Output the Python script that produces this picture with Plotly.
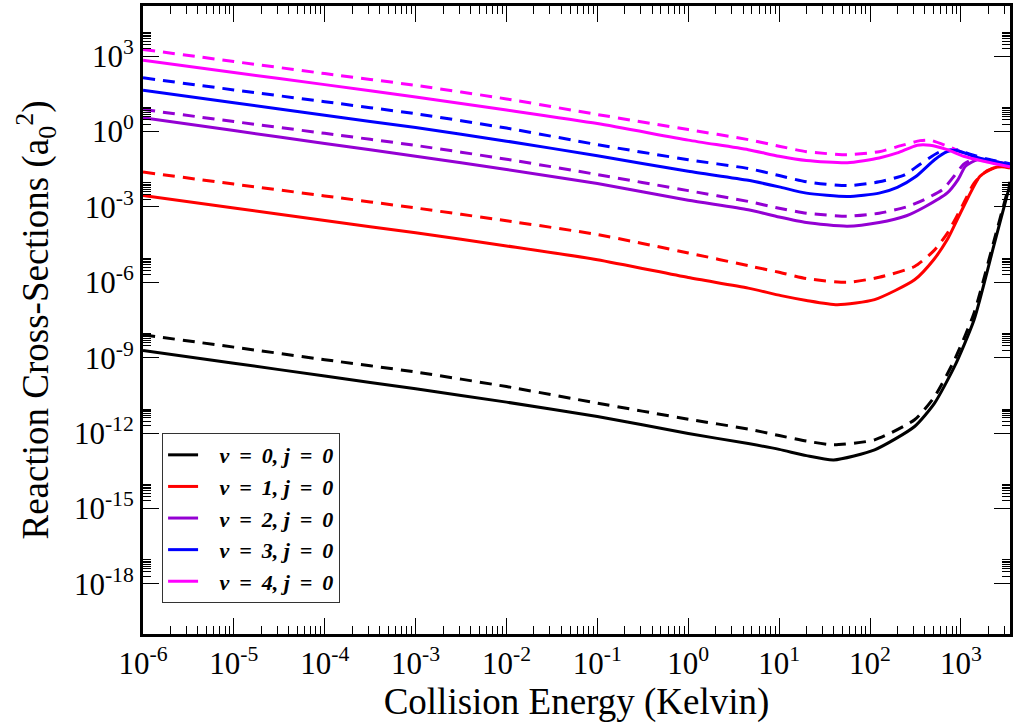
import plotly.graph_objects as go

# ---- data: log10(E / K) and log10(sigma / a0^2) ----
V0_SOLID_LOGE = [-6, -5, -4, -3, -2, -1, 0, 0.66, 1.0, 1.3, 1.6, 2.05, 2.49, 2.71, 2.93, 3.145, 3.36, 3.54]
V0_SOLID_LOGS = [-8.71, -9.22, -9.73, -10.24, -10.77, -11.34, -12.02, -12.42, -12.65, -12.9, -13.07, -12.67,
                 -11.74, -10.81, -9.35, -7.49, -4.57, -2.1]
V0_DASH_LOGE = [-6, -5, -4, -3, -2, -1, 0, 0.66, 1.0, 1.3, 1.6, 2.05, 2.49, 2.71, 2.93, 3.145, 3.36, 3.54]
V0_DASH_LOGS = [-8.09, -8.58, -9.08, -9.57, -10.15, -10.81, -11.45, -11.84, -12.1, -12.32, -12.47, -12.27,
                -11.47, -10.55, -9.08, -7.22, -4.4, -2.0]

V1_SOLID_LOGE = [-6, -5, -4, -3, -2, -1, 0, 0.66, 1.02, 1.3, 1.64, 2.05, 2.49, 2.7, 2.85, 3.03, 3.21, 3.36, 3.45, 3.54]
V1_SOLID_LOGS = [-2.54, -3.04, -3.54, -4.03, -4.55, -5.1, -5.81, -6.23, -6.53, -6.72, -6.89, -6.69, -5.90,
                 -5.1, -4.30, -2.98, -1.78, -1.45, -1.40, -1.45]
V1_DASH_LOGE = [-6, -5, -4, -3, -2, -1, 0, 0.7, 1.0, 1.3, 1.75, 2.1, 2.49, 2.7, 2.85, 3.03, 3.145, 3.29, 3.45, 3.54]
V1_DASH_LOGS = [-1.61, -2.09, -2.56, -3.04, -3.55, -4.10, -4.83, -5.37, -5.6, -5.85, -6.0, -5.8, -5.37,
                -4.75, -4.05, -2.85, -2.05, -1.55, -1.38, -1.42]

V2_SOLID_LOGE = [-6, -5, -4, -3, -2, -1, 0, 0.66, 1.0, 1.3, 1.75, 2.1, 2.4, 2.6, 2.85, 2.97, 3.05, 3.18, 3.35, 3.54]
V2_SOLID_LOGS = [0.55, 0.04, -0.47, -0.98, -1.51, -2.07, -2.73, -3.11, -3.4, -3.62, -3.77, -3.62, -3.35,
                 -3.0, -2.44, -1.9, -1.38, -1.12, -1.2, -1.32]
V2_DASH_LOGE = [-6, -5, -4, -3, -2, -1, 0, 0.66, 1.0, 1.3, 1.75, 2.1, 2.4, 2.6, 2.8, 2.93, 3.03, 3.15, 3.35, 3.54]
V2_DASH_LOGS = [0.88, 0.40, -0.07, -0.55, -1.10, -1.71, -2.35, -2.78, -3.05, -3.25, -3.37, -3.25, -3.0,
                -2.7, -2.3, -1.75, -1.30, -1.08, -1.18, -1.30]

V3_SOLID_LOGE = [-6, -5, -4, -3, -2, -1, 0, 0.66, 1.0, 1.3, 1.75, 2.1, 2.3, 2.5, 2.71, 2.85, 2.95, 3.2, 3.54]
V3_SOLID_LOGS = [1.65, 1.15, 0.65, 0.16, -0.38, -0.96, -1.58, -1.94, -2.2, -2.45, -2.58, -2.45, -2.22,
                 -1.8, -1.12, -0.80, -0.75, -1.05, -1.32]
V3_DASH_LOGE = [-6, -5, -4, -3, -2, -1, 0, 0.66, 1.0, 1.3, 1.75, 2.1, 2.38, 2.55, 2.77, 2.95, 3.1, 3.3, 3.54]
V3_DASH_LOGS = [2.14, 1.66, 1.19, 0.71, 0.14, -0.52, -1.12, -1.47, -1.75, -2.0, -2.15, -2.0, -1.72,
                -1.30, -0.80, -0.72, -0.90, -1.10, -1.28]

V4_SOLID_LOGE = [-6, -5, -4, -3, -2, -1, 0, 0.66, 1.0, 1.3, 1.75, 2.1, 2.3, 2.52, 2.66, 2.85, 3.03, 3.25, 3.54]
V4_SOLID_LOGS = [2.84, 2.35, 1.87, 1.38, 0.86, 0.32, -0.34, -0.72, -0.98, -1.15, -1.24, -1.05, -0.85,
                 -0.54, -0.54, -0.72, -0.98, -1.18, -1.40]
V4_DASH_LOGE = [-6, -5, -4, -3, -2, -1, 0, 0.66, 1.0, 1.3, 1.75, 2.1, 2.35, 2.55, 2.66, 2.85, 3.03, 3.25, 3.54]
V4_DASH_LOGS = [3.27, 2.79, 2.31, 1.84, 1.30, 0.68, 0.08, -0.32, -0.58, -0.80, -0.92, -0.80, -0.55,
                -0.36, -0.34, -0.58, -0.85, -1.12, -1.33]

V_LEVELS = [0, 1, 2, 3, 4]
J_LEVEL = 0
COLORS = ["#000000", "#ff0000", "#9400d3", "#0000ff", "#ff00ff"]

X_TICK_EXP = [-6, -5, -4, -3, -2, -1, 0, 1, 2, 3]
Y_TICK_EXP = [-18, -15, -12, -9, -6, -3, 0, 3]

SOLIDS = [(V0_SOLID_LOGE, V0_SOLID_LOGS), (V1_SOLID_LOGE, V1_SOLID_LOGS), (V2_SOLID_LOGE, V2_SOLID_LOGS),
          (V3_SOLID_LOGE, V3_SOLID_LOGS), (V4_SOLID_LOGE, V4_SOLID_LOGS)]
DASHES = [(V0_DASH_LOGE, V0_DASH_LOGS), (V1_DASH_LOGE, V1_DASH_LOGS), (V2_DASH_LOGE, V2_DASH_LOGS),
          (V3_DASH_LOGE, V3_DASH_LOGS), (V4_DASH_LOGE, V4_DASH_LOGS)]

FONT = "'Liberation Serif', 'Times New Roman', serif"
HS = "\u2009"   # thin space, widens the legend text slightly

fig = go.Figure()

for i, (le, ls) in enumerate(DASHES):
    fig.add_trace(go.Scatter(
        x=[10 ** e for e in le], y=[10 ** s for s in ls], mode="lines",
        line=dict(color=COLORS[i], width=3, dash="12px,8px", shape="spline", smoothing=0.6),
        showlegend=False, hoverinfo="skip"))

for i, (le, ls) in enumerate(SOLIDS):
    label = "\u00a0\u00a0\u00a0<b><i>v%s = %s%d, j%s = %s%d</i></b>" % (HS, HS, V_LEVELS[i], HS, HS, J_LEVEL)
    fig.add_trace(go.Scatter(
        x=[10 ** e for e in le], y=[10 ** s for s in ls], mode="lines",
        line=dict(color=COLORS[i], width=3, shape="spline", smoothing=0.6),
        name=label, hoverinfo="skip"))

x_minor = [m * 10 ** n for n in range(-7, 4) for m in range(2, 10)]
y_minor = [m * 10 ** n for n in Y_TICK_EXP for m in range(2, 10)]

axis_common = dict(
    type="log", showline=True, linecolor="black", linewidth=3, mirror="ticks",
    ticks="inside", ticklen=16, tickwidth=1, tickcolor="black",
    showgrid=False, zeroline=False,
    tickfont=dict(family=FONT, size=31, color="black"),
)

fig.update_layout(
    width=1016, height=726,
    margin=dict(l=143, r=3, t=6, b=92),
    paper_bgcolor="white", plot_bgcolor="white",
    xaxis=dict(
        **axis_common, range=[-6, 3.54],
        tickmode="array", tickvals=[10 ** e for e in X_TICK_EXP],
        ticktext=["10<sup>%d</sup>" % e for e in X_TICK_EXP],
        minor=dict(tickmode="array", tickvals=x_minor, ticks="inside", ticklen=8,
                   tickwidth=1, tickcolor="black", showgrid=False),
        title=dict(text="Collision Energy (Kelvin)", font=dict(family=FONT, size=37, color="black"),
                   standoff=0),
    ),
    yaxis=dict(
        **axis_common, range=[-20, 5],
        tickmode="array", tickvals=[10 ** e for e in Y_TICK_EXP],
        ticktext=["10<sup>%d</sup>" % e for e in Y_TICK_EXP],
        minor=dict(tickmode="array", tickvals=y_minor, ticks="inside", ticklen=8,
                   tickwidth=1, tickcolor="black", showgrid=False),
        title=dict(text="Reaction Cross-Sections (a<sub>0</sub><sup>2</sup>)",
                   font=dict(family=FONT, size=37, color="black"), standoff=14),
    ),
    legend=dict(
        x=0.022, y=0.32, xanchor="left", yanchor="top",
        bgcolor="white", bordercolor="#333333", borderwidth=1,
        font=dict(family=FONT, size=22, color="black"),
        tracegroupgap=0,
    ),
)

fig.write_html("out.html")
